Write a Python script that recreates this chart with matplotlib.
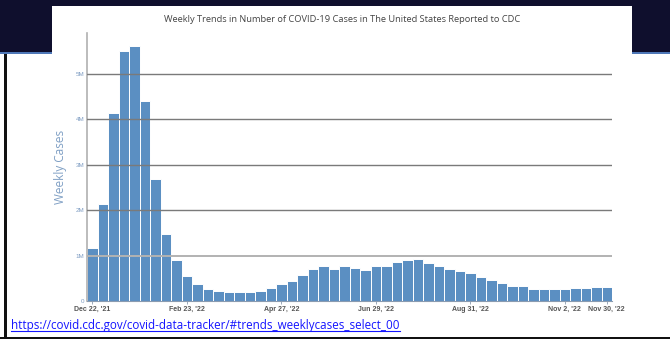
import matplotlib
matplotlib.use("Agg")
import matplotlib.pyplot as plt
from matplotlib.patches import Rectangle
from matplotlib.lines import Line2D

# weekly cases, millions, Dec 22 '21 .. Nov 30 '22
weekly_cases_m = [1.16, 2.14, 4.13, 5.50, 5.60, 4.40, 2.69, 1.48, 0.91, 0.54,
                  0.37, 0.26, 0.21, 0.19, 0.19, 0.19, 0.23, 0.29, 0.37, 0.45,
                  0.58, 0.70, 0.77, 0.71, 0.77, 0.72, 0.69, 0.77, 0.78, 0.86,
                  0.90, 0.93, 0.83, 0.77, 0.70, 0.65, 0.61, 0.52, 0.47, 0.39,
                  0.34, 0.32, 0.26, 0.26, 0.26, 0.27, 0.29, 0.28, 0.31, 0.30]
tick_idx = [0, 9, 18, 27, 36, 45, 49]
tick_labels = ["Dec 22, '21", "Feb 23, '22", "Apr 27, '22", "Jun 29, '22",
               "Aug 31, '22", "Nov 2, '22", "Nov 30, '22"]
y_ticks = [0, 1, 2, 3, 4, 5]
y_tick_labels = ["0", "1M", "2M", "3M", "4M", "5M"]

title = "Weekly Trends in Number of COVID-19 Cases in The United States Reported to CDC"
link = "https://covid.cdc.gov/covid-data-tracker/#trends_weeklycases_select_00"

W, H = 670, 339
fig = plt.figure(figsize=(W / 100, H / 100), dpi=100)
fig.patch.set_facecolor("white")


def px_rect(x0, y0, x1, y1, color, z):
    """Rectangle given in pixel coords (origin top-left)"""
    fig.patches.append(Rectangle((x0 / W, 1 - y1 / H), (x1 - x0) / W, (y1 - y0) / H,
                                 transform=fig.transFigure, facecolor=color,
                                 edgecolor="none", zorder=z))


# slide background pieces (kept under the axes)
px_rect(0, 0, W, 52, "#0f0f2d", -5)
px_rect(0, 52, W, 54, "#4f78b8", -5)
px_rect(52, 6, 632, 60, "white", -4)
px_rect(4, 54, 6.5, 339, "#111111", -4)
px_rect(0, 336.5, W, 339, "#111111", -4)

# chart axes
ymax = 5.9
ax = fig.add_axes([87 / W, (H - 301) / H, (612 - 87) / W, ymax * 45.5 / H])
ax.set_facecolor("none")
ax.bar(range(len(weekly_cases_m)), weekly_cases_m, width=1.0, color="#5b8fc2",
       edgecolor="white", linewidth=0.7, zorder=2)
ax.set_xlim(-0.5, len(weekly_cases_m) - 0.5)
ax.set_ylim(0, ymax)

for v in y_ticks[1:]:
    if v == 1:
        ax.axhline(v, color="#b2b2b2", lw=1.4, zorder=3)
    else:
        ax.axhline(v, color="#7a7a7a", lw=1.0, zorder=3)

for s in ["top", "right"]:
    ax.spines[s].set_visible(False)
ax.spines["left"].set_color("#b0b0b0")
ax.spines["left"].set_linewidth(1.2)
ax.spines["bottom"].set_color("#8a9bb0")
ax.spines["bottom"].set_linewidth(0.8)

ax.set_yticks(y_ticks)
ax.set_yticklabels(y_tick_labels, fontsize=4.5, color="#7d9cc2", family="Liberation Sans")
ax.tick_params(axis="y", length=0, pad=2)
ax.set_xticks(tick_idx)
ax.set_xticklabels(tick_labels, fontsize=5, color="#555555", family="Liberation Sans",
                   fontweight="bold")
ax.tick_params(axis="x", length=2, width=0.6, color="#8a9bb0", pad=1.5)
ax.set_ylabel("Weekly Cases", fontsize=8.5, color="#7f9fc4", family="Open Sans", labelpad=6)

fig.text(342 / W, 1 - 19 / H, title, ha="center", va="center", fontsize=6.7,
         color="#444444", family="Open Sans")

t = fig.text(11 / W, 1 - 326 / H, link, ha="left", va="center", fontsize=8.4,
             color="#1414ff", family="Open Sans")
fig.canvas.draw()
bb = t.get_window_extent()
uy = (bb.y0 + 1.5) / H
fig.lines.append(Line2D([bb.x0 / W, bb.x1 / W], [uy, uy], transform=fig.transFigure,
                        color="#1414ff", lw=0.8))

fig.savefig("out.png", dpi=100)
